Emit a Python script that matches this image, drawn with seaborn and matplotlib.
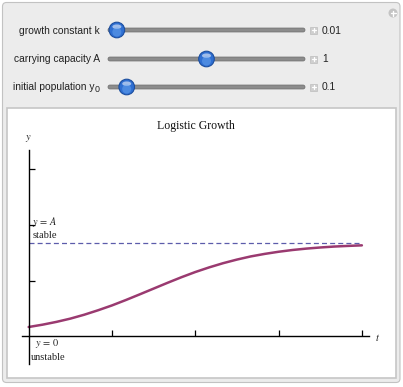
import numpy as np
import pandas as pd
import matplotlib
matplotlib.use("Agg")
import matplotlib.pyplot as plt
from matplotlib.patches import FancyBboxPatch, Rectangle, Circle, Ellipse
import seaborn as sns

# ---- data ----
t_values = [0, 25, 50, 75, 100, 125, 150, 175, 200, 225, 250, 275, 300,
            325, 350, 375, 400, 425, 450, 475, 500, 525, 550, 575, 600]
y_values = [0.100, 0.125, 0.155, 0.190, 0.232, 0.280, 0.332, 0.390, 0.451,
            0.513, 0.575, 0.635, 0.691, 0.741, 0.786, 0.825, 0.859, 0.886,
            0.909, 0.928, 0.943, 0.955, 0.965, 0.972, 0.978]
carrying_capacity = 1.0
x_ticks = [150, 300, 450, 600]
y_ticks = [0.6, 1.2, 1.8]
slider_labels = ["growth constant k", "carrying capacity A", "initial population y"]
slider_subscripts = ["", "", "0"]
slider_values = ["0.01", "1", "0.1"]
slider_fraction = [0.045, 0.50, 0.095]

sns.set_theme(style="white")
plt.rcParams['font.family'] = ['Liberation Sans', 'DejaVu Sans']
plt.rcParams['mathtext.fontset'] = 'stix'

W, H = 403, 387
fig = plt.figure(figsize=(W / 100, H / 100), dpi=100)
fig.patch.set_facecolor("white")

# ---- overlay for the panel / controls (pixel coords) ----
ov = fig.add_axes([0, 0, 1, 1], zorder=0)
ov.set_xlim(0, W)
ov.set_ylim(H, 0)
ov.axis("off")

ov.add_patch(FancyBboxPatch((2.5, 2.5), 397.5, 380, boxstyle="round,pad=0,rounding_size=4",
                            facecolor="#ececec", edgecolor="#c2c2c2", lw=0.8))
ov.add_patch(Rectangle((7, 107.5), 389, 270, facecolor="white", edgecolor="#c6c6c6", lw=1.2))

# corner plus button
ov.add_patch(Circle((393, 13), 4.5, facecolor="#c4c4c4", edgecolor="none"))
ov.plot([390.5, 395.5], [13, 13], color="white", lw=1.0)
ov.plot([393, 393], [10.5, 15.5], color="white", lw=1.0)

slider_y = [30, 59, 87]
track_x0, track_x1 = 108, 305
for lab, sub, val, frac, yy in zip(slider_labels, slider_subscripts, slider_values,
                                   slider_fraction, slider_y):
    if sub:
        ov.text(94.5, yy + 0.5, lab, ha="right", va="center", fontsize=7.4, color="#222222")
        ov.text(94.3, yy + 2.5, sub, ha="left", va="center", fontsize=6.4, color="#222222")
    else:
        ov.text(100, yy + 0.5, lab, ha="right", va="center", fontsize=7.4, color="#222222")
    ov.add_patch(FancyBboxPatch((track_x0, yy - 2), track_x1 - track_x0, 4,
                                boxstyle="round,pad=0,rounding_size=2",
                                facecolor="#8c8c8c", edgecolor="#6e6e6e", lw=0.5))
    kx = track_x0 + frac * (track_x1 - track_x0)
    ov.add_patch(Circle((kx, yy), 7.8, facecolor="#2f6fd2", edgecolor="#1c4e9e", lw=0.8))
    ov.add_patch(Ellipse((kx, yy - 3.3), 9, 4.5, facecolor="white", alpha=0.55, edgecolor="none"))
    ov.add_patch(Circle((kx, yy + 2), 4.5, facecolor="#6aa6ef", alpha=0.5, edgecolor="none"))
    ov.add_patch(Rectangle((310, yy - 3.5), 7, 7, facecolor="#cfcfcf", edgecolor="#bdbdbd", lw=0.5))
    ov.plot([311.5, 315.5], [yy, yy], color="white", lw=0.9)
    ov.plot([313.5, 313.5], [yy - 2, yy + 2], color="white", lw=0.9)
    ov.text(322, yy + 0.5, val, ha="left", va="center", fontsize=7.4, color="#222222")

# ---- the plot ----
ax = fig.add_axes([22.0 / W, (H - 364.2) / H, (369.1 - 22.0) / W, (364.2 - 150.3) / H], zorder=2)
ax.patch.set_alpha(0)
df = pd.DataFrame({"t": t_values, "y": y_values})
sns.lineplot(data=df, x="t", y="y", ax=ax, color="#9a3a70", lw=1.8)
ax.plot([0, t_values[-1]], [carrying_capacity, carrying_capacity], ls=(0, (4, 2.5)),
        color="#5c5cab", lw=0.9)
ax.set_xlim(-12, 613)
ax.set_ylim(-0.3, 2.0)
for s in ["top", "right"]:
    ax.spines[s].set_visible(False)
ax.spines["left"].set_position(("data", 0))
ax.spines["bottom"].set_position(("data", 0))
for s in ["left", "bottom"]:
    ax.spines[s].set_color("black")
    ax.spines[s].set_linewidth(1.0)
ax.set_xticks(x_ticks)
ax.set_yticks(y_ticks)
ax.set_xticklabels([])
ax.set_yticklabels([])
ax.tick_params(axis="both", direction="in", length=4, width=0.9, color="black",
               bottom=True, left=True)
ax.set_xlabel("")
ax.set_ylabel("")

serif = ["Liberation Serif", "DejaVu Serif"]
ov.text(195.5, 126, "Logistic Growth", ha="center", va="center", fontsize=8.5,
        family=serif, color="#111111")
ov.text(28.5, 138, "$y$", ha="center", va="center", fontsize=7.5, color="#222222")
ov.text(378, 337.5, "$t$", ha="center", va="center", fontsize=7.5, color="#222222")
ov.text(32.5, 222, "$y\\,=\\,A$", ha="left", va="center", fontsize=7.4, color="#222222")
ov.text(33, 236, "stable", ha="left", va="center", fontsize=7.6, family=serif, color="#222222")
ov.text(35, 343.5, "$y\\,=\\,0$", ha="left", va="center", fontsize=7.4, color="#222222")
ov.text(31, 357.5, "unstable", ha="left", va="center", fontsize=7.5, family=serif, color="#222222")

fig.savefig("out.png", dpi=100)
